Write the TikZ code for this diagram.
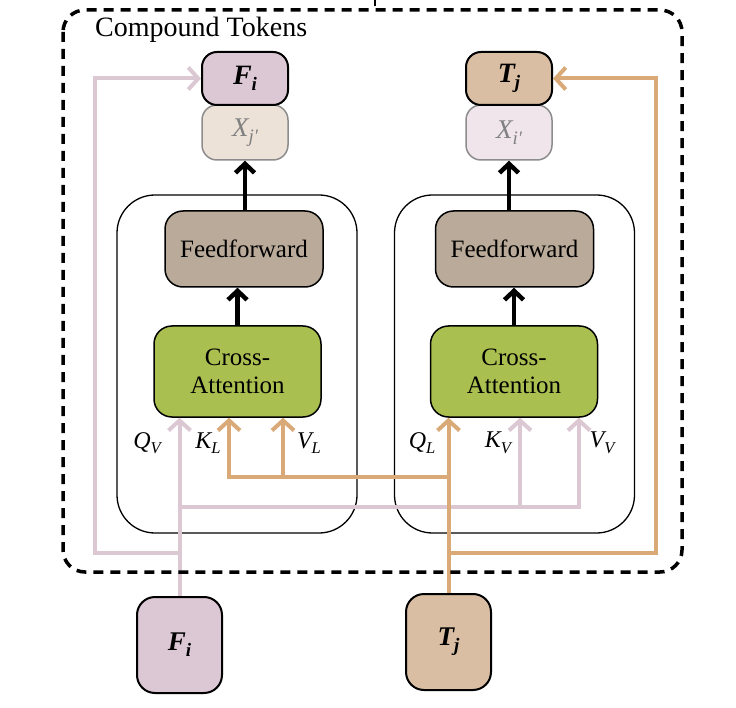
\documentclass[tikz,border=0pt]{standalone}
\usepackage{fontspec}
\setmainfont{Liberation Serif}
\usetikzlibrary{arrows.meta}
\definecolor{pinkline}{HTML}{DBC8D3}
\definecolor{tanline}{HTML}{D9AA78}
\definecolor{pinkfill}{HTML}{DCC8D4}
\definecolor{tanfill}{HTML}{D9BEA3}
\definecolor{beigefill}{HTML}{EDE2D7}
\definecolor{lpinkfill}{HTML}{EFE5EB}
\definecolor{fffill}{HTML}{B9AA99}
\definecolor{cafill}{HTML}{A9BF50}
\newcommand\tksub[2]{#1\raisebox{-6pt}{\fontsize{19}{19}\selectfont #2}}
\newcommand\lbsub[2]{{\fontsize{24}{24}\selectfont\itshape #1\raisebox{-5.5pt}{\fontsize{16.5}{16.5}\selectfont #2}}}
\begin{document}
\begin{tikzpicture}[x=1pt,y=-1pt,
  tok/.style={draw,line width=2pt,rounded corners=15pt,minimum width=86pt,minimum height=53pt,inner sep=0pt,font=\fontsize{28}{28}\selectfont\bfseries\itshape},
  ghost/.style={draw=black!45,line width=1.5pt,rounded corners=15pt,minimum width=86pt,minimum height=55pt,inner sep=0pt,text=black!50,font=\fontsize{27}{27}\selectfont\itshape},
  inp/.style={draw,line width=2pt,rounded corners=18pt,minimum width=85pt,minimum height=96pt,inner sep=0pt,font=\fontsize{27}{27}\selectfont\bfseries\itshape},
  module/.style={draw,line width=1.3pt,rounded corners=38pt,minimum width=240pt,minimum height=338pt,inner sep=0pt},
  ffbox/.style={draw,line width=1.5pt,rounded corners=18pt,fill=fffill,minimum width=158pt,minimum height=76pt,inner sep=0pt,font=\fontsize{25}{28}\selectfont},
  cabox/.style={draw,line width=1.5pt,rounded corners=18pt,fill=cafill,minimum width=167pt,minimum height=91pt,inner sep=0pt,align=center,font=\fontsize{25}{28.5}\selectfont},
  blk/.style={line width=4.5pt,-{Straight Barb[length=9pt,width=19pt]}},
  pk/.style={line width=4pt,draw=pinkline},
  tn/.style={line width=4pt,draw=tanline},
  barb/.style={-{Straight Barb[length=10pt,width=22pt]}},
  lbl/.style={inner sep=0pt}
]
\useasboundingbox (0,0) rectangle (736,708);
% modules
\node[module] (modL) at (237,364) {};
\node[module] (modR) at (514.5,364) {};
% boxes
\node[ffbox] (ffL) at (244,249) {Feedforward};
\node[ffbox] (ffR) at (514.5,249) {Feedforward};
\node[cabox] (caL) at (237.5,371.5) {Cross-\\Attention};
\node[cabox] (caR) at (514,371.5) {Cross-\\Attention};
\node[ghost,fill=beigefill] (xj) at (245,132.5) {\tksub{X}{j′}};
\node[ghost,fill=lpinkfill] (xi) at (509,132.5) {\tksub{X}{i′}};
\node[tok,fill=pinkfill] (fiT) at (245,78.5) {\tksub{F}{i}};
\node[tok,fill=tanfill] (tjT) at (509,78.5) {\tksub{T}{j}};
\node[inp,fill=pinkfill] (fiB) at (179.5,645) {\tksub{F}{i}};
\node[inp,fill=tanfill] (tjB) at (448.5,642) {\tksub{T}{j}};
% black arrows
\draw[blk] (caL.north) -- (caL.north |- ffL.south);
\draw[blk] (xj.south |- ffL.north) -- (xj.south);
\draw[blk] (caR.north) -- (caR.north |- ffR.south);
\draw[blk] (xi.south |- ffR.north) -- (xi.south);
% coordinates
\coordinate (pj) at (179.5,507);
\coordinate (kv) at (520,507);
\coordinate (vv) at (579,507);
\coordinate (pl1) at (179.5,553);
\coordinate (pl2) at (95,553);
\coordinate (pl3) at (95,78.5);
\coordinate (tj1) at (448.5,477);
\coordinate (kl) at (229,477);
\coordinate (vl) at (283,477);
\coordinate (tl1) at (448.5,553);
\coordinate (tl2) at (656,553);
\coordinate (tl3) at (656,78.5);
% pink lines
\draw[pk,barb] (fiB.north) -- (fiB.north |- caL.south);
\draw[pk,barb] (pj) -- (vv) -- (vv |- caR.south);
\draw[pk,barb] (kv) -- (kv |- caR.south);
\draw[pk,barb] (pl1) -- (pl2) -- (pl3) -- (fiT.west);
% tan lines
\draw[tn,barb] (tjB.north) -- (tjB.north |- caR.south);
\draw[tn,barb] (tj1) -- (kl) -- (kl |- caL.south);
\draw[tn,barb] (vl) -- (vl |- caL.south);
\draw[tn,barb] (tl1) -- (tl2) -- (tl3) -- (tjT.east);
% labels
\node[lbl] (qv) at (147,443) {\lbsub{Q}{V}};
\node[lbl] (klb) at (208,443) {\lbsub{K}{L}};
\node[lbl] (vlb) at (309,443) {\lbsub{V}{L}};
\node[lbl] (qlb) at (422,443) {\lbsub{Q}{L}};
\node[lbl] (kvb) at (498,443) {\lbsub{K}{V}};
\node[lbl] (vvb) at (602,443) {\lbsub{V}{V}};
% outer dashed box
\draw[line width=3.5pt,dash pattern=on 10pt off 7pt,rounded corners=22pt] (63,10) rectangle (682,572);
\node[anchor=base west,inner sep=0pt,font=\fontsize{28}{28}\selectfont] (title) at (95,37) {Compound Tokens};
\draw[line width=2.5pt] (375,0) -- (375,6);
\end{tikzpicture}
\end{document}
